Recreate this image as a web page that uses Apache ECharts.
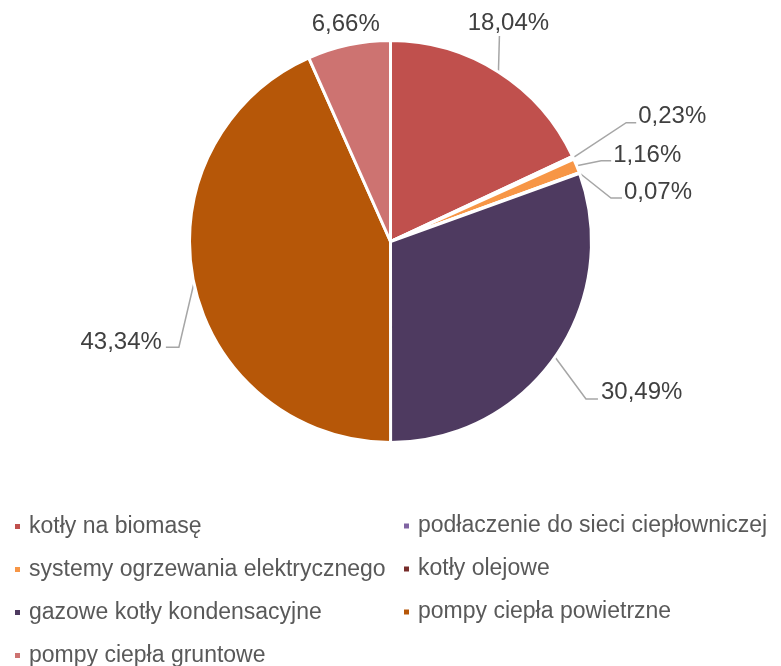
<!DOCTYPE html>
<html>
<head>
<meta charset="utf-8">
<script src="https://cdn.jsdelivr.net/npm/echarts@6/dist/echarts.min.js"></script>
<style>
  html, body { margin: 0; padding: 0; background: #ffffff; }
  #chart { width: 781px; height: 666px; }
</style>
</head>
<body>
<div id="chart"></div>
<script>
// ---- data ----
var categories = [
  'kotły na biomasę',
  'podłaczenie do sieci ciepłowniczej',
  'systemy ogrzewania elektrycznego',
  'kotły olejowe',
  'gazowe kotły kondensacyjne',
  'pompy ciepła powietrzne',
  'pompy ciepła gruntowe'
];
var shares = [18.04, 0.23, 1.16, 0.07, 30.49, 43.34, 6.66];
var colors = ['#C0504D', '#8064A2', '#F79646', '#772C2A', '#4E3A60', '#B65708', '#CD7371'];

var leftLegend = [categories[0], categories[2], categories[4], categories[6]];
var rightLegend = [categories[1], categories[3], categories[5]];

// label placement relative to each slice's edge anchor: [elbowDx, elbowDy, endDx, labelDx, labelDy, align]
var labelGeom = [
  [1, -36, 1, 10, -49, 'center'],
  [53, -35, 63, 65, -41, 'left'],
  [24.5, -5, 34.5, 36.5, -10, 'left'],
  [31.5, 25, 42.5, 44.5, 19, 'left'],
  [31, 42, 43, 46, 35, 'left'],
  [-15, 64, -28, -32, 59, 'right'],
  [0, 0, 0, -3, -21, 'center']
];

var chart = echarts.init(document.getElementById('chart'), null, { renderer: 'canvas' });

var data = categories.map(function (c, i) {
  return { name: c, value: shares[i], itemStyle: { color: colors[i] } };
});

var legendText = { fontFamily: 'Liberation Sans, Arial, sans-serif', fontSize: 23, color: '#595959', padding: [0, 0, 0, 3] };

chart.setOption({
  animation: false,
  backgroundColor: '#ffffff',
  legend: [
    {
      type: 'plain',
      orient: 'vertical', left: 13, top: 515, width: 380, height: 200, itemGap: 20, padding: 0,
      icon: 'rect', itemWidth: 7, itemHeight: 7,
      data: leftLegend, textStyle: legendText, selectedMode: false
    },
    {
      type: 'plain',
      orient: 'vertical', left: 402, top: 514.5, width: 379, height: 200, itemGap: 20, padding: 0,
      icon: 'rect', itemWidth: 7, itemHeight: 7,
      data: rightLegend, textStyle: legendText, selectedMode: false
    }
  ],
  series: [{
    type: 'pie',
    center: [390.5, 241.5],
    radius: [0, 201],
    startAngle: 90,
    clockwise: true,
    avoidLabelOverlap: false,
    itemStyle: { borderColor: '#ffffff', borderWidth: 3 },
    emphasis: { disabled: true },
    label: {
      show: true,
      position: 'outside',
      fontFamily: 'Liberation Sans, Arial, sans-serif',
      fontSize: 24,
      color: '#404040',
      formatter: function (p) { return p.value.toFixed(2).replace('.', ',') + '%'; }
    },
    labelLine: {
      show: true, length: 10, length2: 10,
      lineStyle: { color: '#A6A6A6', width: 1.5 }
    },
    labelLayout: function (params) {
      var g = labelGeom[params.dataIndex];
      var a = params.labelLinePoints[0];
      var pts = [
        [a[0], a[1]],
        [a[0] + g[0], a[1] + g[1]],
        [a[0] + g[2], a[1] + g[1]]
      ];
      return {
        x: a[0] + g[3],
        y: a[1] + g[4],
        align: g[5],
        verticalAlign: 'middle',
        labelLinePoints: pts
      };
    },
    data: data
  }]
});
</script>
</body>
</html>
